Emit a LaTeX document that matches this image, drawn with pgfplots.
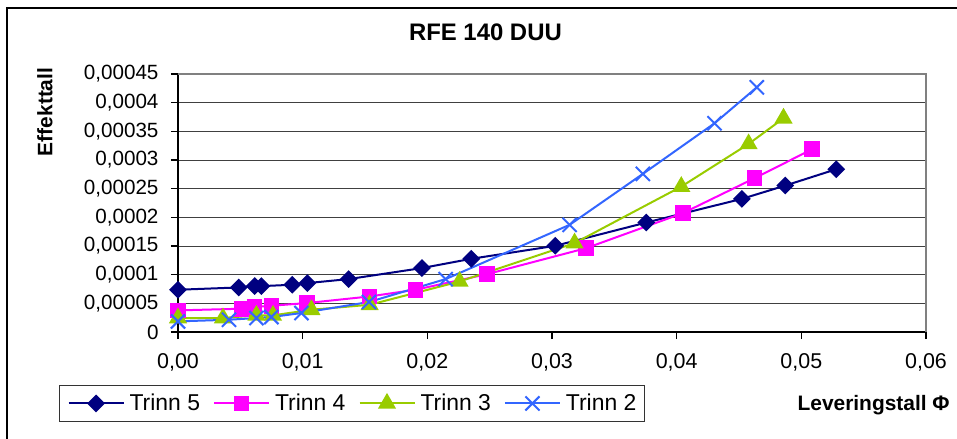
\documentclass[border=0pt]{standalone}
\usepackage{fontspec}
\setmainfont{Liberation Sans}
\usepackage{pgfplots}
\pgfplotsset{compat=1.18}
\definecolor{trinnV}{HTML}{000080}
\definecolor{trinnIV}{HTML}{FF00FF}
\definecolor{trinnIII}{HTML}{99CC00}
\definecolor{trinnII}{HTML}{3366FF}

\begin{document}
\begin{tikzpicture}
\useasboundingbox (0,0) rectangle (957bp,439bp);
\draw[line width=1.5bp] (7bp,-5bp) -- (7bp,431bp) -- (970bp,431bp);
\begin{axis}[
  at={(178bp,107bp)}, anchor=south west,
  scale only axis, width=748bp, height=258bp,
  xmin=0, xmax=0.06, ymin=0, ymax=0.00045,
  scaled ticks=false,
  xtick={0,0.01,0.02,0.03,0.04,0.05,0.06},
  ytick={0,0.00005,0.0001,0.00015,0.0002,0.00025,0.0003,0.00035,0.0004,0.00045},
  xticklabels={{0,00},{0,01},{0,02},{0,03},{0,04},{0,05},{0,06}},
  yticklabels={{0},{0,00005},{0,0001},{0,00015},{0,0002},{0,00025},{0,0003},{0,00035},{0,0004},{0,00045}},
  xticklabel style={font=\fontsize{21.5}{24}\selectfont, yshift=-11bp},
  yticklabel style={font=\fontsize{20.7}{24}\selectfont, xshift=-9bp},
  axis x line*=bottom, axis y line*=left,
  axis line style={-, black, line width=1.5bp},
  tick align=outside, major tick length=7bp,
  tick style={black, line width=1.5bp},
  ymajorgrids, major grid style={black!75, line width=1bp},
  title={RFE 140 DUU},
  title style={font=\bfseries\fontsize{24}{28}\selectfont, at={(axis description cs:0.411,1.14)}, anchor=center},
  ylabel={Effekttall},
  ylabel style={font=\bfseries\fontsize{21}{24}\selectfont, at={(axis description cs:-0.178,0.853)}, anchor=center},
  xlabel={Leveringstall Φ},
  xlabel style={font=\bfseries\fontsize{21}{24}\selectfont, at={(axis description cs:0.93,-0.283)}, anchor=center},
  legend columns=4,
  legend style={at={(axis description cs:-0.159,-0.205)}, anchor=north west,
    draw=black!80, line width=1bp, font=\fontsize{23}{26}\selectfont,
    inner xsep=8bp, inner ysep=9bp, nodes={inner sep=0pt},
    /tikz/every odd column/.append style={column sep=5bp},
    /tikz/every even column/.append style={column sep=13bp}},
  legend image code/.code={\draw[#1, mark repeat=2, mark phase=2] plot coordinates {(0bp,0bp) (27.5bp,0bp) (55bp,0bp)};},
  after end axis/.code={\draw[black!50, line width=2bp] (rel axis cs:0,1) -- (rel axis cs:1,1) -- (rel axis cs:1,0);},
]
\addplot[trinnV, line width=2bp, mark=square*, mark size=5.3bp, mark options={rotate=45, solid}]
coordinates {(0,7.37e-5) (0.00487,7.77e-5) (0.00615,8.02e-5) (0.00669,8.0e-5) (0.00917,8.24e-5) (0.01038,8.53e-5) (0.01369,9.23e-5) (0.01957,11.15e-5) (0.02353,12.77e-5) (0.03026,15.03e-5) (0.03756,19.09e-5) (0.04523,23.22e-5) (0.04871,25.54e-5) (0.0528,28.39e-5)};
\addplot[trinnIV, line width=2bp, mark=square*, mark size=6.8bp]
coordinates {(0,3.77e-5) (0.00508,4.06e-5) (0.00615,4.35e-5) (0.00749,4.58e-5) (0.01035,5.05e-5) (0.01537,6.2e-5) (0.01906,7.37e-5) (0.02481,10.1e-5) (0.03275,14.63e-5) (0.0405,20.73e-5) (0.04625,26.83e-5) (0.05087,31.88e-5)};
\addplot[trinnIII, line width=2bp, mark=triangle*, mark size=8.5bp]
coordinates {(0,2.44e-5) (0.00361,2.44e-5) (0.00629,2.9e-5) (0.00762,2.9e-5) (0.0107,3.88e-5) (0.01537,4.75e-5) (0.02259,8.81e-5) (0.03181,15.5e-5) (0.04037,25.36e-5) (0.04577,32.8e-5) (0.04857,37.28e-5)};
\addplot[trinnII, line width=2bp, mark=x, mark size=10bp, mark options={line width=2bp}]
coordinates {(0,1.85e-5) (0.00409,2.14e-5) (0.00629,2.44e-5) (0.00749,2.61e-5) (0.0099,3.31e-5) (0.01532,5.23e-5) (0.02147,9.23e-5) (0.03141,18.69e-5) (0.03729,27.58e-5) (0.04304,36.41e-5) (0.04643,42.68e-5)};
\legend{Trinn 5, Trinn 4, Trinn 3, Trinn 2}
\end{axis}
\end{tikzpicture}
\end{document}
